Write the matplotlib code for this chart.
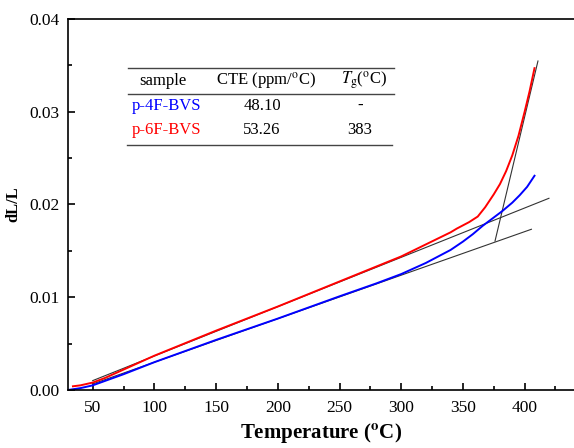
import matplotlib
matplotlib.use("Agg")
import matplotlib.pyplot as plt
import numpy as np

plt.rcParams['font.family'] = ['Liberation Serif', 'DejaVu Serif']
plt.rcParams['mathtext.fontset'] = 'stix'

# p-4F-BVS (blue)
t_4f = [30, 40, 50, 75, 100, 150, 200, 250, 280, 300, 320, 330, 340, 350,
        358, 366, 374, 382, 390, 396, 402, 408]
dl_4f = [0.0000, 0.0002, 0.0005, 0.0017, 0.0030, 0.0054, 0.0077, 0.0101,
         0.0115, 0.0125, 0.0137, 0.0144, 0.0151, 0.0160, 0.0168, 0.0177,
         0.0185, 0.0193, 0.0202, 0.0210, 0.0219, 0.0231]

# p-6F-BVS (red)
t_6f = [34, 40, 50, 60, 75, 100, 150, 200, 250, 300, 320, 340, 345, 355,
        362, 368, 375, 380, 385, 390, 395, 400, 404, 408]
dl_6f = [0.0004, 0.0005, 0.0008, 0.0013, 0.0022, 0.0037, 0.0064, 0.0090,
         0.0117, 0.0144, 0.0157, 0.0170, 0.0174, 0.0181, 0.0187, 0.0197,
         0.0211, 0.0222, 0.0236, 0.0253, 0.0274, 0.0300, 0.0322, 0.0347]

# tangent lines (end points)
tan_4f = ([50, 405.5], [0.00065, 0.01733])
tan_6f = ([50, 419.7], [0.00101, 0.02067])
tan_steep = ([376, 410.8], [0.01606, 0.03547])

table_cols = ["sample", "CTE (ppm/$^{\\mathrm{o}}$C)", "$T_{\\mathrm{g}}$($^{\\mathrm{o}}$C)"]
table_rows = [["p-4F-BVS", "48.10", "-"], ["p-6F-BVS", "53.26", "383"]]
row_colors = ["blue", "red"]

fig = plt.figure(figsize=(5.74, 4.48), dpi=100)
ax = fig.add_axes([68/574, 58/448, 1 - 68/574, 371/448])

ax.plot(*tan_4f, color="#333333", lw=0.8)
ax.plot(*tan_6f, color="#333333", lw=0.8)
ax.plot(*tan_steep, color="#333333", lw=0.8)
ax.plot(t_4f, dl_4f, color="blue", lw=1.4)
ax.plot(t_6f, dl_6f, color="red", lw=1.4)

ax.set_xlim(30, 440)
ax.set_ylim(0, 0.04)
ax.set_xticks(np.arange(50, 401, 50))
ax.set_xticks(np.arange(50, 440, 25), minor=True)
ax.set_yticks(np.arange(0, 0.041, 0.01))
ax.set_yticks(np.arange(0, 0.041, 0.005), minor=True)
ax.yaxis.set_major_formatter(matplotlib.ticker.FormatStrFormatter("%.2f"))
ax.tick_params(which="both", direction="in", labelsize=12.5, width=1.2)
ax.tick_params(axis="x", which="both", pad=7)
ax.tick_params(axis="y", which="both", pad=6)
ax.tick_params(which="major", length=5)
ax.tick_params(which="minor", length=3)
ax.spines["right"].set_visible(False)
for s in ["left", "bottom", "top"]:
    ax.spines[s].set_linewidth(1.2)

ax.set_xlabel("Temperature ($^{\\mathbf{o}}$C)", fontsize=15, fontweight="bold", labelpad=4)
ax.set_ylabel("dL/L", fontsize=12, fontweight="bold", labelpad=6)

# table as text inside the axes (figure pixel coordinates)
def fx(px):
    return px / 574
def fy(py):
    return 1 - py / 448

for y in [68, 94]:
    fig.add_artist(plt.Line2D([fx(128), fx(394)], [fy(y), fy(y)], color="#444444", lw=1.0))
fig.add_artist(plt.Line2D([fx(127), fx(392)], [fy(145), fy(145)], color="#444444", lw=1.0))

col_x = [fx(163), fx(266), fx(364)]
for cx, txt in zip(col_x, table_cols):
    fig.text(cx, fy(81), txt, ha="center", va="center", fontsize=12)
for (name, cte, tg), c, y in zip(table_rows, row_colors, [106, 130]):
    fig.text(fx(166), fy(y), name, ha="center", va="center", fontsize=12, color=c)
    fig.text(fx(262), fy(y), cte, ha="center", va="center", fontsize=12)
    fig.text(fx(360), fy(y), tg, ha="center", va="center", fontsize=12,
             fontweight="bold" if tg == "-" else "normal")

fig.savefig("out.png", dpi=100)
